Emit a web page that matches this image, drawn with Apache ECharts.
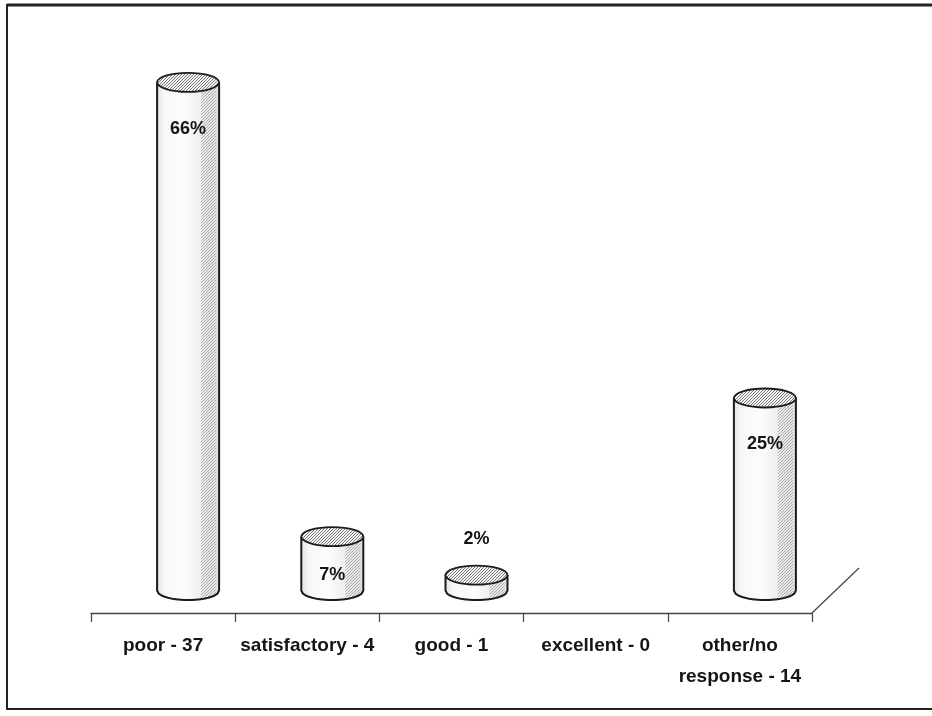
<!DOCTYPE html>
<html>
<head>
<meta charset="utf-8">
<script src="https://cdn.jsdelivr.net/npm/echarts@6/dist/echarts.min.js"></script>
<style>
  html, body { margin: 0; padding: 0; background: #ffffff; }
  #chart { width: 932px; height: 716px; }
</style>
</head>
<body>
<div id="chart"></div>
<script>
// Survey ratings: response names, counts and the share of all responses
const ratingNames = ['poor', 'satisfactory', 'good', 'excellent', 'other/no\nresponse'];
const ratingCounts = [37, 4, 1, 0, 14];
const ratingPercents = [66, 7, 2, 0, 25];

const categoryLabels = ratingNames.map((n, i) => n + ' - ' + ratingCounts[i]);

const FONT = '"Liberation Sans", Arial, sans-serif';
const INK = '#151515';

// Fine stipple texture used for the cylinder tops and shaded sides
const STIPPLE = [
  '100100',
  '001001',
  '010010',
  '100100',
  '001001',
  '010010'
];
function makeStipple(dot, bg) {
  const n = STIPPLE.length;
  const c = document.createElement('canvas');
  c.width = n; c.height = n;
  const g = c.getContext('2d');
  g.fillStyle = bg; g.fillRect(0, 0, n, n);
  g.fillStyle = dot;
  STIPPLE.forEach((row, y) => {
    for (let x = 0; x < row.length; x++) if (row[x] === '1') g.fillRect(x, y, 1, 1);
  });
  return c;
}
const topPattern = { image: makeStipple('#7a7a7a', '#f4f4f4'), repeat: 'repeat' };
const sidePattern = { image: makeStipple('#8a8a8a', '#eeeeee'), repeat: 'repeat' };

// 3D floor depth and where the cylinders sit inside it
const DEPTH_X = 47, DEPTH_Y = -45;
const BAR_SHIFT_X = 25, BAR_SHIFT_Y = -22.5;
const RY = 9.5;

function arcPoints(cx, cy, rx, ry, x0, x1, steps) {
  const pts = [];
  for (let s = 0; s <= steps; s++) {
    const x = x0 + (x1 - x0) * s / steps;
    const t = (x - cx) / rx;
    pts.push([x, cy + ry * Math.sqrt(Math.max(0, 1 - t * t))]);
  }
  return pts;
}

function renderCylinder(params, api) {
  const idx = api.value(0);
  const val = api.value(1);
  const base = api.coord([idx, 0]);
  const band = api.size([1, 0])[0];
  const children = [];

  if (params.dataIndex === categoryLabels.length - 1) {
    const ex = base[0] + band / 2;
    children.push({
      type: 'line',
      shape: { x1: ex, y1: base[1], x2: ex + DEPTH_X, y2: base[1] + DEPTH_Y },
      style: { stroke: '#444', lineWidth: 1.2 }
    });
  }

  if (val > 0) {
    const rx = band * 0.215;
    const cx = base[0] + BAR_SHIFT_X;
    const bottom = base[1] + BAR_SHIFT_Y;
    const top = api.coord([idx, val])[1] + BAR_SHIFT_Y;
    const h = bottom - top;

    const bodyPts = [[cx - rx, top]]
      .concat(arcPoints(cx, bottom, rx, RY, cx - rx, cx + rx, 40))
      .concat([[cx + rx, top]]);
    children.push({
      type: 'polygon',
      shape: { points: bodyPts },
      style: {
        fill: {
          type: 'linear', x: 0, y: 0, x2: 1, y2: 0,
          colorStops: [
            { offset: 0, color: '#e4e4e4' },
            { offset: 0.12, color: '#f7f7f7' },
            { offset: 0.45, color: '#fcfcfc' },
            { offset: 0.7, color: '#eeeeee' },
            { offset: 0.88, color: '#d8d8d8' },
            { offset: 1, color: '#e2e2e2' }
          ]
        },
        stroke: 'none'
      }
    });

    // shaded stipple band down the right side
    const s0 = cx + rx * 0.42, s1 = cx + rx * 0.9;
    const stripPts = [[s0, top]]
      .concat(arcPoints(cx, bottom, rx, RY, s0, s1, 16))
      .concat([[s1, top]]);
    children.push({
      type: 'polygon',
      shape: { points: stripPts },
      style: { fill: sidePattern, opacity: 0.6 }
    });

    // outline: sides and front bottom rim
    const outline = [[cx - rx, top]]
      .concat(arcPoints(cx, bottom, rx, RY, cx - rx, cx + rx, 40))
      .concat([[cx + rx, top]]);
    children.push({
      type: 'polyline',
      shape: { points: outline },
      style: { stroke: '#1c1c1c', lineWidth: 2, fill: 'none' }
    });

    children.push({
      type: 'ellipse',
      shape: { cx: cx, cy: top, rx: rx, ry: RY },
      style: { fill: topPattern, stroke: '#1c1c1c', lineWidth: 1.8 }
    });

    const labelY = val >= 5 ? top + Math.min(47, 36 + h * 0.05) : top - 36;
    children.push({
      type: 'text',
      style: {
        text: val + '%',
        x: cx, y: labelY,
        align: 'center', verticalAlign: 'middle',
        fontFamily: FONT, fontWeight: 'bold', fontSize: 18,
        fill: INK
      }
    });
  }

  return { type: 'group', children: children };
}

const chart = echarts.init(document.getElementById('chart'), null, { renderer: 'canvas' });

chart.setOption({
  backgroundColor: '#ffffff',
  animation: false,
  grid: { left: 91, right: 120, top: 74, bottom: 103 },
  xAxis: {
    type: 'category',
    data: categoryLabels,
    boundaryGap: true,
    axisLine: { lineStyle: { color: '#444', width: 1.4 } },
    axisTick: { show: true, length: 9, interval: 0, lineStyle: { color: '#444', width: 1.2 } },
    axisLabel: {
      interval: 0, margin: 17,
      fontFamily: FONT, fontWeight: 'bold', fontSize: 19,
      lineHeight: 31, color: INK
    },
    splitLine: { show: false }
  },
  yAxis: { type: 'value', min: 0, max: 70, show: false },
  series: [{
    type: 'custom',
    renderItem: renderCylinder,
    data: ratingPercents.map((v, i) => [i, v]),
    encode: { x: 0, y: 1 },
    clip: false
  }],
  graphic: [
    {
      type: 'rect',
      shape: { x: 7, y: 5, width: 940, height: 704 },
      style: { fill: 'none', stroke: '#222', lineWidth: 2 },
      silent: true
    },
    {
      type: 'line',
      shape: { x1: 7, y1: 5, x2: 932, y2: 5 },
      style: { stroke: '#222', lineWidth: 3 },
      silent: true
    }
  ]
});
</script>
</body>
</html>
